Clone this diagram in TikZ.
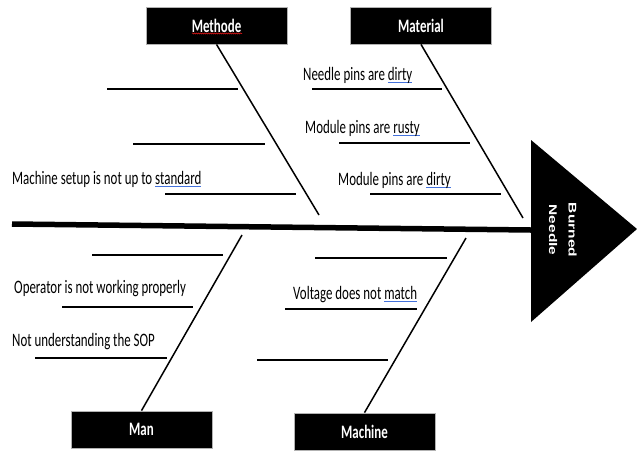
\documentclass[tikz,border=0pt]{standalone}
\usepackage{fontspec}
\usepackage{xcolor}
\usetikzlibrary{decorations.pathmorphing}
\newfontfamily\ribfont[FakeStretch=0.68]{Carlito}
\newfontfamily\headfont{Liberation Sans}
\definecolor{spellblue}{RGB}{68,114,220}
\definecolor{spellred}{RGB}{200,20,20}
\newcommand{\spellmark}[1]{\setbox0\hbox{#1}\rlap{\textcolor{spellblue}{\rule[-2.5pt]{\wd0}{0.7pt}}}\box0}
\tikzset{
        catbox/.style={fill=black, draw=gray!60, line width=0.8pt, minimum width=141pt, minimum height=37pt, inner sep=0pt, text=white, font=\ribfont\bfseries\fontsize{19}{22}\selectfont},
        bone/.style={line width=1.5pt},
        rib/.style={line width=1.7pt},
        cause/.style={anchor=base west, inner sep=0pt, font=\ribfont\fontsize{19}{22}\selectfont},
        effect/.style={inner sep=0pt, text=white, font=\headfont\bfseries\fontsize{15.5}{18}\selectfont}
}

\begin{document}
\begin{tikzpicture}[x=1pt,y=-1pt]
        \useasboundingbox (0,0) rectangle (637,451);
        \fill[white] (0,0) rectangle (637,451);
        \coordinate (tail) at (12,224);
        \coordinate (head) at (531,230);
        \fill (531,140) -- (637,229) -- (531,322) -- cycle;
        \draw[line width=5.5pt] (tail) -- (head);
        \node (burned) at (572.5,230) [effect] {\scalebox{0.72}[1]{\rotatebox{-90}{Burned}}};
        \node (needle) at (553,230) [effect] {\scalebox{0.72}[1]{\rotatebox{-90}{Needle}}};
        \node[catbox] (methode) at (216.5,25.5) {Methode};
        \node[catbox] (material) at (421,25.5) {Material};
        \node[catbox] (man) at (141.5,429.5) {Man};
        \node[catbox] (machine) at (364.5,431.5) {Machine};
        \draw[spellred, line width=0.6pt, decorate, decoration={snake, amplitude=0.5pt, segment length=2pt}] (192,33.5) -- (242,33.5);
        \coordinate (methodeend) at (319,215);
        \coordinate (materialend) at (523,218);
        \coordinate (manend) at (242,235);
        \coordinate (machineend) at (466,238);
        \draw[bone] (methode.south) -- (methodeend);
        \draw[bone] (material.south) -- (materialend);
        \draw[bone] (man.north) -- (manend);
        \draw[bone] (machine.north) -- (machineend);
        \foreach \y/\a/\b in {89/107/238,144/133/265,194/165/296,89/312/442,143/339/470,194/370/501,255/92/223,307/62/193,358/35/167,258/315/447,309/285/417,360/257/388}
                \draw[rib] (\a,\y) -- (\b,\y);
        \node[cause] (setup) at (12,184) {Machine setup is not up to \spellmark{standard}};
        \node[cause] (needlepins) at (303,80) {Needle pins are \spellmark{dirty}};
        \node[cause] (rusty) at (305,133) {Module pins are \spellmark{rusty}};
        \node[cause] (dirty) at (338,185) {Module pins are \spellmark{dirty}};
        \node[cause] (operator) at (14,293) {Operator is not working properly};
        \node[cause] (sop) at (12,346) {Not understanding the SOP};
        \node[cause] (voltage) at (293,299) {Voltage does not \spellmark{match}};
\end{tikzpicture}
\end{document}
